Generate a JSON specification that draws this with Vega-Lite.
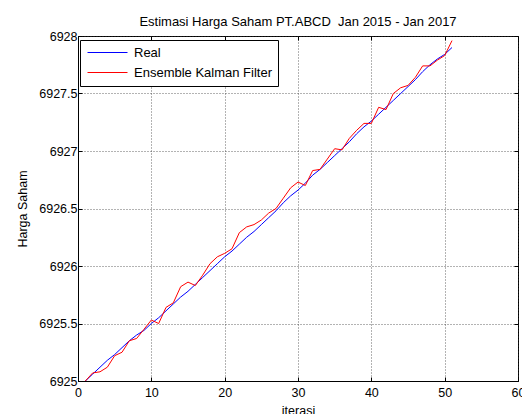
{
  "$schema": "https://vega.github.io/schema/vega-lite/v6.json",
  "width": 440,
  "height": 345,
  "autosize": {"type": "none"},
  "padding": {"left": 78, "top": 36, "right": 4, "bottom": 33},
  "background": "white",
  "title": {
    "text": "Estimasi Harga Saham PT.ABCD \u00a0Jan 2015 - Jan 2017",
    "font": "Liberation Sans",
    "fontSize": 13,
    "fontWeight": "normal",
    "color": "black",
    "offset": 5,
    "dy": 4
  },
  "config": {
    "view": {"stroke": "black", "strokeWidth": 1},
    "axis": {
      "labelFont": "Liberation Sans",
      "labelFontSize": 12.5,
      "labelColor": "black",
      "titleFont": "Liberation Sans",
      "titleFontSize": 12.5,
      "titleFontWeight": "normal",
      "titleColor": "black",
      "domainColor": "black",
      "tickColor": "black",
      "tickSize": -4,
      "gridColor": "#333333",
      "gridDash": [1, 2],
      "gridWidth": 1,
      "gridOpacity": 0.75
    }
  },
  "data": {
    "values": [
      {"iter": 1, "real": 6925.00, "enkf": 6925.00},
      {"iter": 2, "real": 6925.06, "enkf": 6925.07},
      {"iter": 3, "real": 6925.12, "enkf": 6925.08},
      {"iter": 4, "real": 6925.18, "enkf": 6925.12},
      {"iter": 5, "real": 6925.23, "enkf": 6925.22},
      {"iter": 6, "real": 6925.29, "enkf": 6925.25},
      {"iter": 7, "real": 6925.35, "enkf": 6925.35},
      {"iter": 8, "real": 6925.40, "enkf": 6925.37},
      {"iter": 9, "real": 6925.44, "enkf": 6925.45},
      {"iter": 10, "real": 6925.50, "enkf": 6925.53},
      {"iter": 11, "real": 6925.55, "enkf": 6925.50},
      {"iter": 12, "real": 6925.61, "enkf": 6925.64},
      {"iter": 13, "real": 6925.67, "enkf": 6925.68},
      {"iter": 14, "real": 6925.73, "enkf": 6925.82},
      {"iter": 15, "real": 6925.78, "enkf": 6925.86},
      {"iter": 16, "real": 6925.84, "enkf": 6925.83},
      {"iter": 17, "real": 6925.90, "enkf": 6925.92},
      {"iter": 18, "real": 6925.96, "enkf": 6926.02},
      {"iter": 19, "real": 6926.02, "enkf": 6926.08},
      {"iter": 20, "real": 6926.08, "enkf": 6926.11},
      {"iter": 21, "real": 6926.13, "enkf": 6926.15},
      {"iter": 22, "real": 6926.19, "enkf": 6926.29},
      {"iter": 23, "real": 6926.25, "enkf": 6926.34},
      {"iter": 24, "real": 6926.30, "enkf": 6926.36},
      {"iter": 25, "real": 6926.36, "enkf": 6926.40},
      {"iter": 26, "real": 6926.42, "enkf": 6926.46},
      {"iter": 27, "real": 6926.48, "enkf": 6926.50},
      {"iter": 28, "real": 6926.55, "enkf": 6926.59},
      {"iter": 29, "real": 6926.61, "enkf": 6926.68},
      {"iter": 30, "real": 6926.66, "enkf": 6926.73},
      {"iter": 31, "real": 6926.72, "enkf": 6926.70},
      {"iter": 32, "real": 6926.79, "enkf": 6926.83},
      {"iter": 33, "real": 6926.84, "enkf": 6926.84},
      {"iter": 34, "real": 6926.90, "enkf": 6926.93},
      {"iter": 35, "real": 6926.96, "enkf": 6927.02},
      {"iter": 36, "real": 6927.02, "enkf": 6927.01},
      {"iter": 37, "real": 6927.08, "enkf": 6927.11},
      {"iter": 38, "real": 6927.15, "enkf": 6927.18},
      {"iter": 39, "real": 6927.21, "enkf": 6927.24},
      {"iter": 40, "real": 6927.26, "enkf": 6927.24},
      {"iter": 41, "real": 6927.32, "enkf": 6927.38},
      {"iter": 42, "real": 6927.38, "enkf": 6927.36},
      {"iter": 43, "real": 6927.44, "enkf": 6927.50},
      {"iter": 44, "real": 6927.50, "enkf": 6927.55},
      {"iter": 45, "real": 6927.56, "enkf": 6927.57},
      {"iter": 46, "real": 6927.62, "enkf": 6927.64},
      {"iter": 47, "real": 6927.69, "enkf": 6927.74},
      {"iter": 48, "real": 6927.75, "enkf": 6927.74},
      {"iter": 49, "real": 6927.80, "enkf": 6927.79},
      {"iter": 50, "real": 6927.84, "enkf": 6927.83},
      {"iter": 51, "real": 6927.90, "enkf": 6927.96}
    ]
  },
  "transform": [
    {"fold": ["real", "enkf"], "as": ["key", "value"]},
    {"calculate": "datum.key === 'real' ? 'Real' : 'Ensemble Kalman Filter'", "as": "series"}
  ],
  "layer": [
    {
      "mark": {"type": "line", "strokeWidth": 1, "clip": true},
      "encoding": {
        "x": {
          "field": "iter",
          "type": "quantitative",
          "scale": {"domain": [0, 60], "nice": false},
          "axis": {"values": [0, 10, 20, 30, 40, 50, 60], "title": "iterasi", "labelPadding": 9, "titlePadding": 6, "labelFlush": false, "labelExpr": "datum.value + ''"}
        },
        "y": {
          "field": "value",
          "type": "quantitative",
          "scale": {"domain": [6925, 6928], "nice": false, "zero": false},
          "axis": {"values": [6925, 6925.5, 6926, 6926.5, 6927, 6927.5, 6928], "title": "Harga Saham", "labelPadding": 5, "titlePadding": 9, "labelFlush": false, "labelExpr": "datum.value + ''"}
        },
        "color": {
          "field": "series",
          "type": "nominal",
          "scale": {"domain": ["Real", "Ensemble Kalman Filter"], "range": ["#0000ff", "#ff0000"]},
          "legend": {
            "title": null,
            "orient": "none",
            "legendX": 2,
            "legendY": 4,
            "symbolType": "M-4,0H4",
            "symbolSize": 100,
            "symbolOffset": 15,
            "symbolStrokeWidth": 1,
            "labelFont": "Liberation Sans",
            "labelFontSize": 13,
            "labelColor": "black",
            "strokeColor": "black",
            "fillColor": "white",
            "padding": 6,
            "rowPadding": 6,
            "labelOffset": 20,
            "labelLimit": 300
          }
        }
      }
    },
    {
      "mark": {"type": "point", "opacity": 0},
      "encoding": {
        "x": {
          "field": "iter",
          "type": "quantitative",
          "axis": {"orient": "top", "values": [0, 10, 20, 30, 40, 50, 60], "labels": false, "title": null, "grid": false, "domain": false}
        },
        "y": {
          "field": "value",
          "type": "quantitative",
          "axis": {"orient": "right", "values": [6925, 6925.5, 6926, 6926.5, 6927, 6927.5, 6928], "labels": false, "title": null, "grid": false, "domain": false}
        }
      }
    }
  ],
  "resolve": {"axis": {"x": "independent", "y": "independent"}}
}
